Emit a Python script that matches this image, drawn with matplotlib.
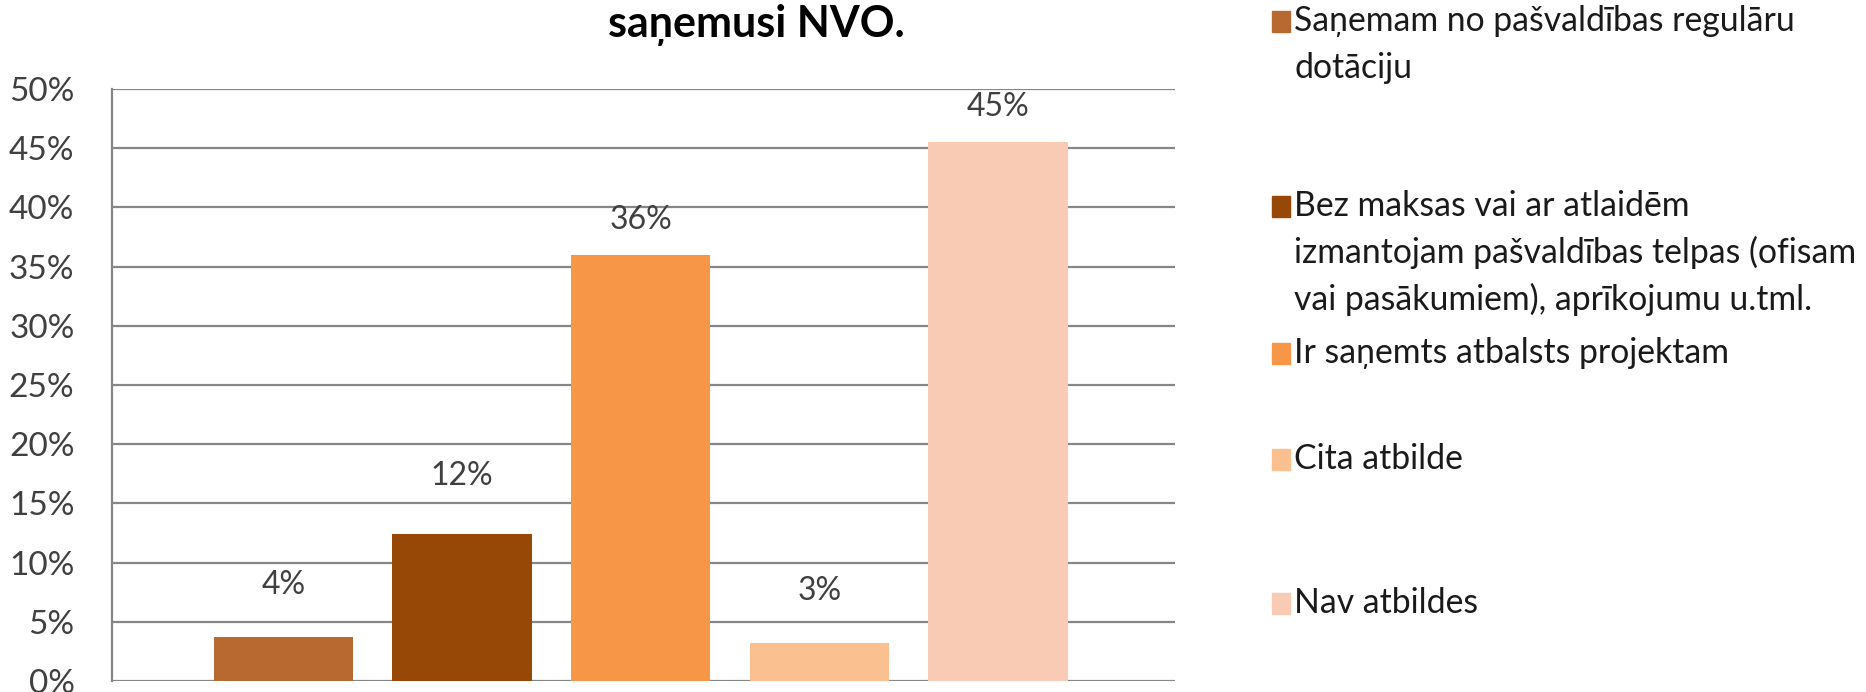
import matplotlib
matplotlib.use("Agg")
import matplotlib.pyplot as plt
from matplotlib.patches import Rectangle

# ---- data ----
categories = [
    "Saņemam no pašvaldības regulāru\ndotāciju",
    "Bez maksas vai ar atlaidēm\nizmantojam pašvaldības telpas (ofisam\nvai pasākumiem), aprīkojumu u.tml.",
    "Ir saņemts atbalsts projektam",
    "Cita atbilde",
    "Nav atbildes",
]
values = [0.037, 0.124, 0.360, 0.032, 0.455]
value_labels = ["4%", "12%", "36%", "3%", "45%"]
colors = ["#B8692F", "#974706", "#F79646", "#FAC090", "#F9CBB4"]
label_offsets = [0.044, 0.049, 0.029, 0.044, 0.030]
yticks = [0, 0.05, 0.10, 0.15, 0.20, 0.25, 0.30, 0.35, 0.40, 0.45, 0.50]
ytick_labels = ["0%", "5%", "10%", "15%", "20%", "25%", "30%", "35%", "40%", "45%", "50%"]
title = "saņemusi NVO."

FONT = ["Lato", "DejaVu Sans"]
plt.rcParams["font.family"] = FONT

W, H = 1866, 692
fig = plt.figure(figsize=(W / 100, H / 100), dpi=100)
ax = fig.add_axes([112 / W, 1 - 681 / H, (1175 - 112) / W, (681 - 89) / H])

x = list(range(len(values)))
ax.bar(x, values, width=0.78, color=colors, zorder=3)
for xi, v, lab, off in zip(x, values, value_labels, label_offsets):
    ax.text(xi, v + off, lab, ha="center", va="center", fontsize=23, color="#404040")

ax.set_xlim(-0.96, 4.99)
ax.set_ylim(0, 0.5)
ax.set_yticks(yticks)
ax.set_yticklabels(ytick_labels, fontsize=24, color="#404040")
ax.tick_params(axis="y", length=0, pad=27)
ax.set_xticks([])
ax.yaxis.grid(True, color="#868686", linewidth=1.6, zorder=0)
ax.set_axisbelow(True)
for s in ["top", "right", "bottom"]:
    ax.spines[s].set_visible(False)
ax.spines["left"].set_color("#868686")
ax.spines["left"].set_linewidth(1.6)

fig.text(756 / W, 1 - 37 / H, title, ha="center", va="baseline",
         fontsize=31, fontweight="bold", color="#000000")

# ---- legend (manual) ----
entry_tops = [21, 206, 353, 459, 603]
line_h = 46.5
for cat, col, yc in zip(categories, colors, entry_tops):
    fig.patches.append(Rectangle((1272 / W, 1 - (yc + 11) / H), 18 / W, 21 / H,
                                 transform=fig.transFigure, color=col, figure=fig))
    for k, line in enumerate(cat.split("\n")):
        fig.text(1294 / W, 1 - (yc + k * line_h) / H, line, ha="left", va="center",
                 fontsize=24.3, color="#1a1a1a")

fig.savefig("out.png", dpi=100)
